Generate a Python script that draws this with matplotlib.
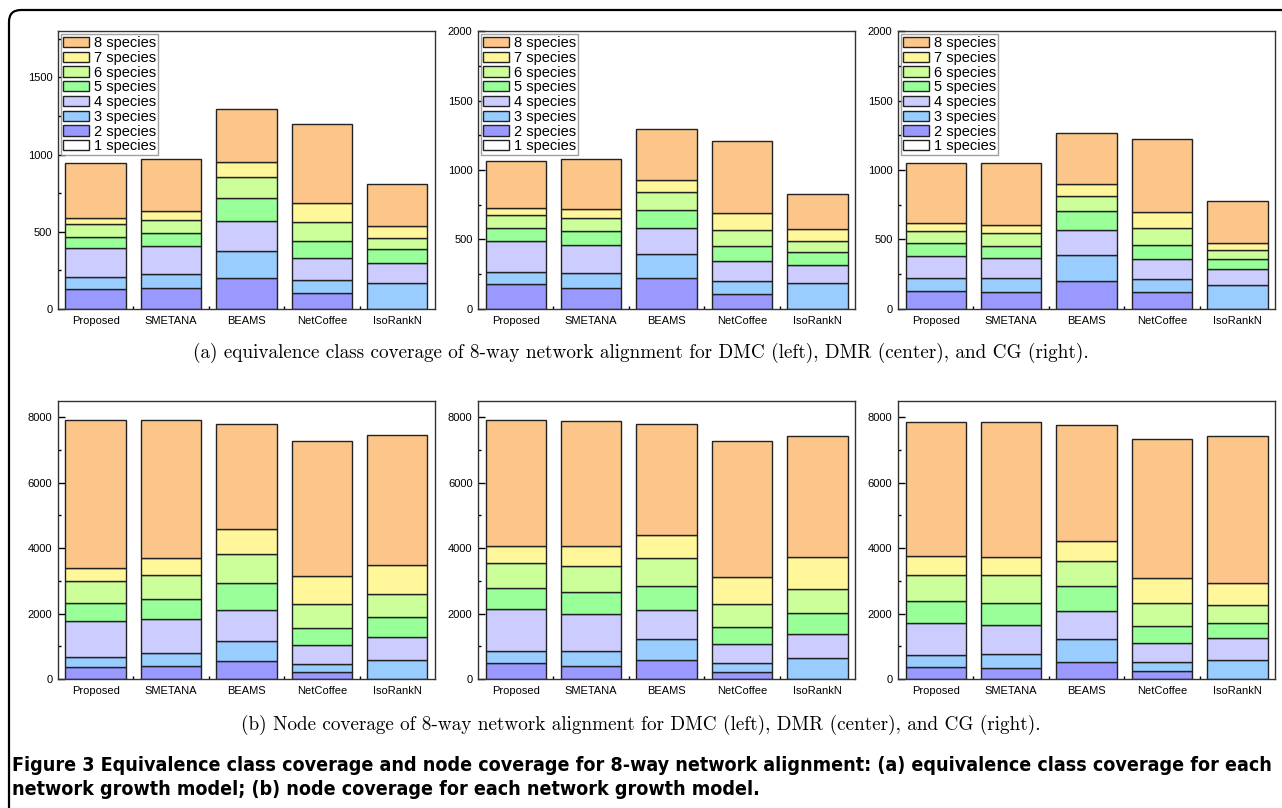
import matplotlib.pyplot as plt
import numpy as np
from matplotlib.patches import PathPatch
from matplotlib.path import Path
from matplotlib.transforms import IdentityTransform
from matplotlib.ticker import MultipleLocator, FixedLocator
from matplotlib.font_manager import FontProperties, findfont

methods = ['Proposed', 'SMETANA', 'BEAMS', 'NetCoffee', 'IsoRankN']
species = ['1 species', '2 species', '3 species', '4 species',
           '5 species', '6 species', '7 species', '8 species']
colors = ['#FFFFFF', '#9999FF', '#99CCFF', '#CCCCFF',
          '#99FF99', '#CCFF99', '#FFF799', '#FCC589']

# counts per method, columns = 1..8 species
# (a) equivalence class coverage
ec_dmc = [[0, 127, 82, 184, 75, 80, 39, 356],
          [0, 136, 91, 179, 86, 82, 58, 341],
          [0, 201, 177, 194, 149, 132, 97, 345],
          [0, 104, 86, 140, 108, 125, 123, 514],
          [0, 0, 166, 132, 88, 76, 73, 274]]
ec_dmr = [[0, 177, 92, 218, 93, 94, 53, 338],
          [0, 149, 112, 197, 101, 93, 65, 362],
          [0, 223, 173, 187, 129, 130, 88, 365],
          [0, 110, 94, 144, 103, 120, 117, 521],
          [0, 0, 185, 134, 91, 79, 84, 252]]
ec_cg = [[0, 132, 91, 158, 91, 92, 52, 437],
         [0, 122, 99, 146, 89, 93, 55, 444],
         [0, 201, 190, 177, 139, 108, 82, 372],
         [0, 122, 96, 144, 98, 120, 118, 527],
         [0, 0, 170, 120, 67, 67, 53, 298]]

# (b) node coverage
nc_dmc = [[0, 356, 316, 1089, 549, 672, 407, 4530],
          [0, 387, 397, 1038, 631, 712, 530, 4224],
          [0, 539, 631, 927, 834, 886, 773, 3206],
          [0, 214, 254, 560, 529, 743, 845, 4132],
          [0, 0, 580, 702, 621, 692, 876, 3979]]
nc_dmr = [[0, 489, 366, 1293, 631, 753, 519, 3868],
          [0, 407, 458, 1120, 682, 773, 611, 3847],
          [0, 590, 631, 876, 733, 865, 702, 3389],
          [0, 224, 265, 590, 509, 702, 825, 4173],
          [0, 0, 641, 743, 641, 733, 977, 3695]]
nc_cg = [[0, 356, 367, 977, 692, 794, 580, 4102],
         [0, 336, 427, 886, 672, 844, 570, 4133],
         [0, 519, 692, 855, 764, 763, 641, 3542],
         [0, 244, 275, 580, 519, 703, 773, 4234],
         [0, 0, 570, 682, 458, 560, 661, 4509]]

caption_a = ('(a) equivalence class coverage of 8-way network alignment for '
             'DMC (left), DMR (center), and CG (right).')
caption_b = ('(b) Node coverage of 8-way network alignment for '
             'DMC (left), DMR (center), and CG (right).')
fig_cap1 = ('Figure 3 Equivalence class coverage and node coverage for 8-way network '
            'alignment: (a) equivalence class coverage for each')
fig_cap2 = 'network growth model; (b) node coverage for each network growth model.'

plt.rcParams['font.family'] = ['Liberation Sans', 'DejaVu Sans']

fig = plt.figure(figsize=(12.82, 8.08), dpi=100)

lefts = [0.0452, 0.3729, 0.7005]
w = 0.2941
h = 0.344


def draw_panel(ax, data, ymax, major, show_legend):
    data = np.array(data, dtype=float)
    x = np.arange(1, len(methods) + 1)
    bottom = np.zeros(len(methods))
    handles = []
    for k in range(len(species)):
        b = ax.bar(x, data[:, k], 0.8, bottom=bottom, color=colors[k],
                   edgecolor='#222222', linewidth=1.0, label=species[k], zorder=2)
        handles.append(b)
        bottom += data[:, k]
    ax.set_xlim(0.5, 5.5)
    ax.set_ylim(0, ymax)
    ax.set_xticks(x)
    ax.set_xticklabels(methods, fontsize=8)
    ax.xaxis.set_minor_locator(FixedLocator(x[:-1] + 0.5))
    ax.yaxis.set_major_locator(MultipleLocator(major))
    ax.yaxis.set_minor_locator(MultipleLocator(major / 2))
    ax.tick_params(axis='both', which='major', direction='in', length=5,
                   width=1, labelsize=8, pad=4)
    ax.tick_params(axis='both', which='minor', direction='in', length=2.5, width=1)
    ax.tick_params(axis='x', pad=5)
    for s in ax.spines.values():
        s.set_color('#333333')
        s.set_linewidth(1.0)
    if show_legend:
        ax.legend(handles[::-1], species[::-1], loc='upper left', fontsize=10.5,
                  frameon=True, fancybox=False, edgecolor='#888888',
                  borderpad=0.15, labelspacing=0.05, handlelength=1.8,
                  handleheight=0.7, handletextpad=0.3, borderaxespad=0.2)


top_sets = [(ec_dmc, 1800), (ec_dmr, 2000), (ec_cg, 2000)]
bot_sets = [nc_dmc, nc_dmr, nc_cg]

for i in range(3):
    ax = fig.add_axes([lefts[i], 0.6176, w, h])
    draw_panel(ax, top_sets[i][0], top_sets[i][1], 500, True)
    ax2 = fig.add_axes([lefts[i], 0.1597, w, h])
    draw_panel(ax2, bot_sets[i], 8500, 2000, False)

fig.text(0.5, 0.563, caption_a, ha='center', va='center', family='cmr10', fontsize=13.8)
fig.text(0.5, 0.1027, caption_b, ha='center', va='center', family='cmr10', fontsize=13.8)

# caption in a condensed bold face if one is installed
cond = FontProperties(family='DejaVu Sans', weight='bold', stretch='condensed')
if 'Condensed' in findfont(cond):
    cap_kw = dict(family='DejaVu Sans', fontstretch='condensed', fontsize=14.1)
else:
    cap_kw = dict(family='DejaVu Sans', fontsize=12.9)
fig.text(0.0094, 0.052, fig_cap1, ha='left', va='center', fontweight='bold', **cap_kw)
fig.text(0.0094, 0.0223, fig_cap2, ha='left', va='center', fontweight='bold', **cap_kw)

# page frame: top and left edges with a rounded corner
verts = [(1282, 798), (21, 798), (9, 798), (9, 786), (9, 0)]
codes = [Path.MOVETO, Path.LINETO, Path.CURVE3, Path.CURVE3, Path.LINETO]
frame = PathPatch(Path(verts, codes), transform=IdentityTransform(),
                  facecolor='none', edgecolor='black', linewidth=1.6)
fig.patches.append(frame)

plt.savefig('out.png', dpi=100)
plt.close()
